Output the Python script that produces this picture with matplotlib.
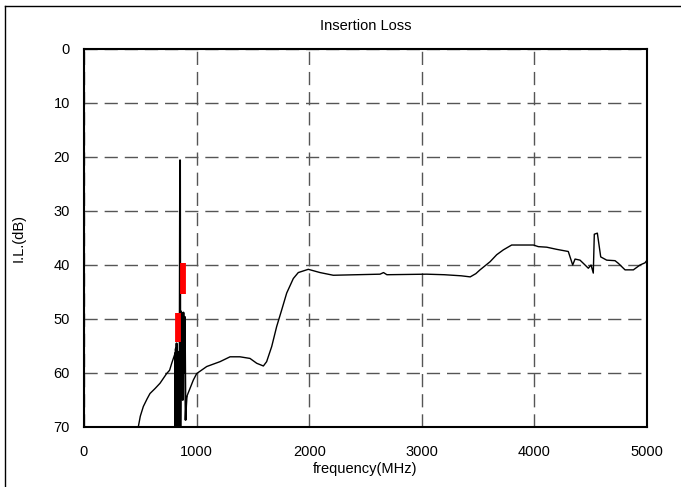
import matplotlib
matplotlib.use('Agg')
import matplotlib.pyplot as plt
from matplotlib.lines import Line2D

plt.rcParams['font.family'] = ['Liberation Sans', 'DejaVu Sans']

# 低频段上升沿 (MHz, dB)
freq_lo = [482, 500, 527, 560, 586, 630, 675, 734, 760, 779, 808]
il_lo = [70.0, 68.0, 66.2, 64.8, 63.8, 62.9, 61.9, 60.1, 59.5, 58.2, 56.4]

# 通带附近密集谐振
freq_spike = [808, 812, 815, 819, 822, 826, 830, 836, 842, 848, 853, 856,
              862, 867, 872, 877, 883, 890, 895, 902, 907, 912]
il_spike = [56.4, 70.0, 55.5, 70.0, 54.5, 70.0, 56.0, 70.0, 58.0, 70.0, 20.6, 70.0,
            48.6, 62.0, 49.0, 65.0, 48.8, 60.0, 49.6, 68.7, 66.0, 64.4]

# 高频段
freq_hi = [912, 971, 1001, 1090, 1208, 1297, 1385, 1474, 1534, 1593, 1622,
           1667, 1711, 1756, 1800, 1859, 1903, 1992, 2096, 2214, 2629, 2660,
           2690, 3043, 3200, 3350, 3430, 3480, 3517, 3606, 3665, 3724, 3798,
           3991, 4035, 4109, 4198, 4301, 4340, 4361, 4405, 4435, 4479, 4503,
           4523, 4532, 4559, 4589, 4642, 4716, 4746, 4805, 4879, 4938, 4982, 5012]
il_hi = [64.4, 61.3, 60.1, 58.8, 57.9, 57.0, 57.0, 57.3, 58.2, 58.7, 57.9,
         55.1, 51.4, 48.3, 45.2, 42.5, 41.4, 40.8, 41.4, 41.9, 41.7, 41.4,
         41.8, 41.7, 41.8, 42.0, 42.2, 41.6, 40.9, 39.4, 38.1, 37.2, 36.3,
         36.3, 36.6, 36.7, 37.1, 37.5, 40.0, 38.9, 39.1, 39.7, 40.6, 40.0,
         41.5, 34.3, 34.1, 38.5, 39.1, 39.2, 39.7, 40.9, 40.9, 40.0, 39.6, 38.8]

# 规格标记 (频率, 上限, 下限)
spec_freq = [833, 880]
spec_top = [48.8, 39.7]
spec_bot = [54.2, 45.4]

fig = plt.figure(figsize=(6.81, 4.87), dpi=100)
ax = fig.add_axes([84/681, 1-427/487, (647-84)/681, (427-49)/487])

ax.plot(freq_lo, il_lo, color='black', linewidth=1.0, zorder=3)
ax.plot(freq_spike, il_spike, color='black', linewidth=1.4, zorder=3)
ax.plot(freq_hi, il_hi, color='black', linewidth=1.0, zorder=3)
for f, t, b in zip(spec_freq, spec_top, spec_bot):
    ax.plot([f, f], [t, b], color='#ff0000', linewidth=4.2,
            solid_capstyle='butt', zorder=4)

ax.set_xlim(0, 5000)
ax.set_ylim(70, 0)
ax.set_xticks(range(0, 5001, 1000))
ax.set_yticks(range(0, 71, 10))
ax.tick_params(axis='both', length=0, labelsize=10.5)
ax.tick_params(axis='x', pad=13)
ax.tick_params(axis='y', pad=10)
ax.grid(True, color='#555555', linewidth=1.0, linestyle=(0, (9.5, 5)))
for s in ax.spines.values():
    s.set_linewidth(1.5)
    s.set_zorder(5)

ax.set_title('Insertion Loss', fontsize=10.5, pad=14)
ax.set_xlabel('frequency(MHz)', fontsize=10.5, labelpad=2)
ax.set_ylabel('I.L.(dB)', fontsize=10.5, labelpad=20)

# 外框
fig.add_artist(Line2D([5/681, 1.0], [1-6/487, 1-6/487], transform=fig.transFigure,
                      color='black', linewidth=1.0))
fig.add_artist(Line2D([5/681, 5/681], [0.0, 1-6/487], transform=fig.transFigure,
                      color='black', linewidth=1.0))

fig.savefig('out.png', dpi=100)
